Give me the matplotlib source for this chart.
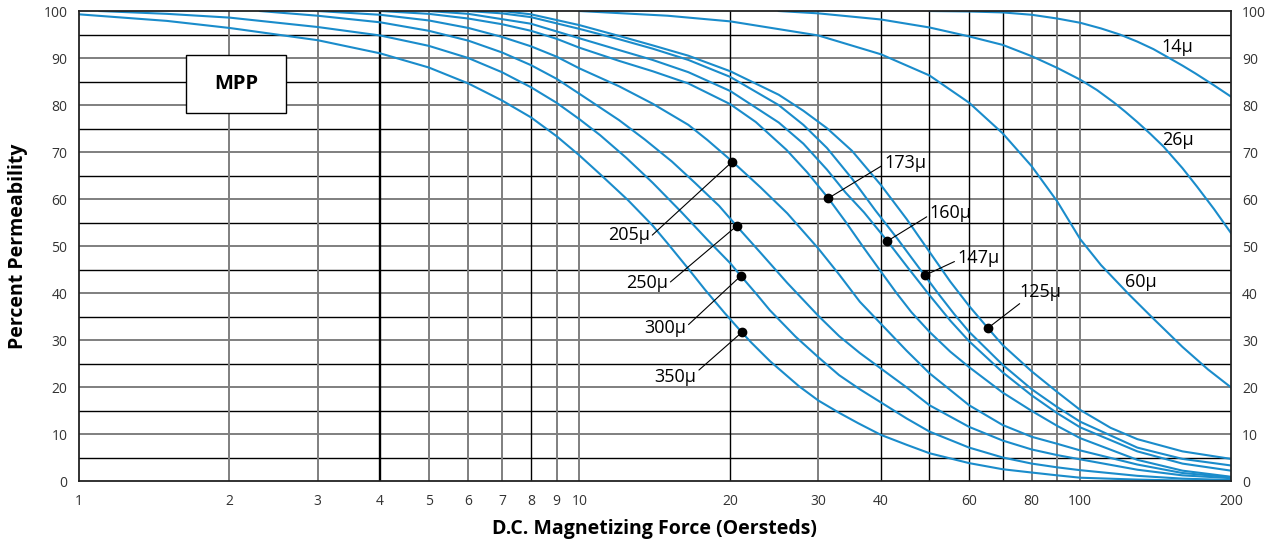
import matplotlib
matplotlib.use("Agg")
import matplotlib.pyplot as plt
from matplotlib.patches import Rectangle
from matplotlib.ticker import NullLocator

plt.rcParams["font.family"] = ["Open Sans", "DejaVu Sans"]

# ─── Data ────────────────────────────────────────────────────────────────────
h_350 = [1, 1.5, 2, 3, 4, 5, 6, 7, 8, 9, 10, 11, 12.5, 14, 15, 16.5, 17.8, 19.5, 21.1, 22, 24,
         27.4, 30, 33, 36, 40, 45, 50, 60, 70, 80, 90, 100, 130, 160, 200]
p_350 = [99.3, 97.9, 96.4, 93.8, 91.0, 88.0, 84.6, 81.0, 77.4, 73.4, 69.3, 65.3, 59.8, 54.4, 50.6,
         45.2, 40.8, 35.8, 31.7, 29.6, 25.6, 20.3, 17.2, 14.6, 12.4, 9.9, 7.8, 6.0, 3.9, 2.6, 1.9,
         1.3, 0.8, 0.4, 0.2, 0.1]

h_300 = [1.1, 1.5, 2, 3, 4, 5, 6, 7, 8, 9, 10, 11, 12.4, 14, 16, 18, 20, 21.0, 22.5, 24, 27, 30,
         33, 36.3, 40, 45, 50, 60, 70, 80, 90, 100, 130, 160, 200]
p_300 = [100, 99.4, 98.6, 96.6, 94.8, 92.6, 90.0, 87.0, 83.8, 80.5, 77.0, 73.6, 68.8, 63.5, 57.2,
         51.4, 46.4, 43.7, 40.0, 36.4, 30.8, 26.4, 22.6, 19.6, 16.8, 13.4, 10.6, 7.2, 5.1, 3.8, 3.0,
         2.4, 1.2, 0.6, 0.3]

h_250 = [2.3, 3, 4, 5, 6, 7, 8, 9, 10, 12, 13.5, 15.3, 17, 19, 20.6, 23, 26, 30, 33, 36.3, 40,
         45, 50, 60, 70, 80, 90, 100, 130, 160, 200]
p_250 = [100, 99.0, 97.6, 95.8, 93.7, 91.2, 88.5, 85.6, 82.4, 76.8, 72.7, 68.0, 63.5, 58.6,
         54.3, 48.6, 42.2, 35.2, 30.9, 27.3, 24.0, 20.0, 16.2, 11.6, 8.7, 6.8, 5.6, 4.7, 2.5, 1.3,
         0.7]

h_205 = [3.0, 4, 5, 6, 7, 8, 9, 10, 12, 14, 16.5, 18, 20.2, 23, 26, 30, 33, 36.3, 40, 45, 50,
         60, 70, 80, 90, 100, 130, 160, 200]
p_205 = [100, 99.2, 98.0, 96.4, 94.5, 92.5, 90.3, 87.8, 84.0, 80.3, 75.8, 72.6, 68.0, 62.5,
         57.0, 49.5, 44.0, 38.2, 33.5, 27.8, 23.0, 16.2, 12.0, 9.5, 8.0, 6.6, 3.6, 1.8, 0.9]

h_173 = [4.0, 5, 6, 7, 8, 9, 10, 12, 14, 16.5, 20, 22.5, 25.9, 28.5, 31.4, 34, 37, 40, 43, 46,
         50, 55, 60, 70, 80, 90, 100, 130, 160, 200]
p_173 = [100, 99.4, 98.4, 97.2, 95.8, 94.1, 92.2, 89.4, 87.2, 84.6, 80.2, 76.4, 70.5, 65.7,
         60.2, 55.2, 49.6, 44.6, 40.0, 36.0, 31.8, 27.6, 24.3, 18.9, 15.0, 11.8, 9.2, 4.6, 2.3, 1.0]

h_160 = [5, 6, 8, 10, 12, 14, 16.5, 20, 25, 28, 31.2, 34, 37, 41.2, 45, 50, 55, 60, 70, 80, 90,
         100, 130, 160, 200]
p_160 = [100, 99.4, 97.3, 94.2, 91.7, 89.6, 87.0, 83.0, 76.3, 71.8, 66.3, 61.4, 57.2, 51.1, 45.8,
         39.6, 34.2, 29.8, 23.2, 18.3, 14.5, 11.5, 6.4, 3.8, 2.3]

h_147 = [6, 7, 8, 10, 12, 14, 16.5, 20, 25, 28, 31.2, 35, 39, 43, 46, 48.9, 52, 56, 60, 70, 80,
         90, 100, 130, 160, 200]
p_147 = [100, 99.5, 98.7, 96.2, 94.0, 92.0, 89.6, 86.0, 80.0, 75.8, 70.9, 64.4, 57.6, 51.8, 47.6,
         43.8, 40.0, 35.6, 31.8, 24.8, 19.6, 15.8, 12.7, 7.2, 4.8, 3.4]

h_125 = [7, 8, 10, 12, 14, 16.5, 20, 25, 28, 31.2, 35, 40, 45, 50, 55, 60, 65.4, 70, 80, 90,
         100, 115, 130, 160, 200]
p_125 = [100, 99.3, 97.0, 94.7, 92.7, 90.5, 87.2, 82.2, 78.8, 75.1, 70.3, 63.0, 55.8, 48.8,
         42.5, 37.3, 32.6, 29.0, 23.4, 19.0, 15.2, 11.4, 9.0, 6.4, 4.8]

h_60 = [10, 15, 20, 30, 40, 50, 60, 70, 80, 90, 100, 110, 125, 140, 160, 180, 200]
p_60 = [100, 99.0, 97.8, 94.8, 90.8, 86.3, 80.5, 74.0, 67.0, 59.5, 51.5, 46.0, 39.8, 34.6, 28.6,
        23.8, 20.0]

h_26 = [25, 30, 40, 50, 60, 70, 80, 90, 100, 108, 116.6, 123, 130, 138, 146.6, 160, 171, 185, 200]
p_26 = [100, 99.5, 98.2, 96.5, 94.6, 92.8, 90.4, 87.9, 85.4, 83.2, 80.6, 78.6, 76.4, 73.9, 71.2,
        66.6, 62.7, 57.9, 52.8]

h_14 = [50, 60, 70, 80, 90, 100, 110, 120, 130, 140, 150, 160, 170, 185, 200]
p_14 = [100, 99.9, 99.7, 99.2, 98.4, 97.5, 96.3, 95.0, 93.5, 91.9, 90.1, 88.4, 86.7, 84.2, 81.8]

curves = [
    (h_350, p_350), (h_300, p_300), (h_250, p_250), (h_205, p_205),
    (h_173, p_173), (h_160, p_160), (h_147, p_147), (h_125, p_125),
    (h_60, p_60), (h_26, p_26), (h_14, p_14),
]

# labelled points with leader lines (H, % on the curve)
dot_names = ["205", "250", "300", "350", "173", "160", "147", "125"]
dot_h = [20.2, 20.6, 21.0, 21.1, 31.4, 41.2, 48.9, 65.4]
dot_p = [68.0, 54.3, 43.7, 31.7, 60.2, 51.1, 43.8, 32.6]

x_ticks = [1, 2, 3, 4, 5, 6, 7, 8, 9, 10, 20, 30, 40, 60, 80, 100, 200]
y_ticks = list(range(0, 101, 10))

BLUE = "#1a8ccb"
GREY = "#7f7f7f"

# ─── Figure ──────────────────────────────────────────────────────────────────
fig = plt.figure(figsize=(12.73, 5.48), dpi=100)
ax = fig.add_axes([0.0618, 0.1214, 0.9052, 0.8585])
ax.set_xscale("log")
ax.set_xlim(1, 200)
ax.set_ylim(0, 100)

# grid
for y in range(5, 100, 5):
    if y % 10 == 0:
        ax.axhline(y, color=GREY, lw=1.4, zorder=1)
    else:
        ax.axhline(y, color="black", lw=1.0, zorder=1)
for x in [2, 3, 5, 6, 7, 9, 10, 30, 80, 90, 100]:
    ax.axvline(x, color=GREY, lw=1.4, zorder=1)
for x in [8, 20, 40, 50, 60, 70]:
    ax.axvline(x, color="black", lw=1.0, zorder=1)
ax.axvline(4, color="black", lw=1.7, zorder=1)

# curves
for hs, ps in curves:
    ax.plot(hs, ps, color=BLUE, lw=1.5, zorder=3, solid_joinstyle="round")

# labels with leaders
label_style = dict(fontsize=13, color="black", va="center", zorder=5)
leader = dict(arrowstyle="-", color="black", lw=0.8, shrinkA=0, shrinkB=0)
ax.annotate("205μ", xy=(dot_h[0], dot_p[0]), xytext=(13.8, 52.4), ha="right",
            arrowprops=dict(leader, relpos=(1.0, 0.35)), **label_style)
ax.annotate("250μ", xy=(dot_h[1], dot_p[1]), xytext=(15.0, 42.1), ha="right",
            arrowprops=dict(leader, relpos=(1.0, 0.45)), **label_style)
ax.annotate("300μ", xy=(dot_h[2], dot_p[2]), xytext=(16.3, 32.6), ha="right",
            arrowprops=dict(leader, relpos=(1.0, 0.55)), **label_style)
ax.annotate("350μ", xy=(dot_h[3], dot_p[3]), xytext=(17.1, 22.2), ha="right",
            arrowprops=dict(leader, relpos=(1.0, 0.75)), **label_style)
ax.annotate("173μ", xy=(dot_h[4], dot_p[4]), xytext=(40.6, 67.8), ha="left",
            arrowprops=dict(leader, relpos=(0.0, 0.4)), **label_style)
ax.annotate("160μ", xy=(dot_h[5], dot_p[5]), xytext=(50.0, 57.0), ha="left",
            arrowprops=dict(leader, relpos=(0.0, 0.4)), **label_style)
ax.annotate("147μ", xy=(dot_h[6], dot_p[6]), xytext=(56.8, 47.4), ha="left",
            arrowprops=dict(leader, relpos=(0.0, 0.4)), **label_style)
ax.annotate("125μ", xy=(dot_h[7], dot_p[7]), xytext=(75.6, 40.3), ha="left",
            arrowprops=dict(leader, relpos=(0.12, 0.05)), **label_style)
ax.plot(dot_h, dot_p, "o", color="black", ms=6, zorder=6)

ax.text(145.2, 92.4, "14μ", ha="left", **label_style)
ax.text(146.0, 72.6, "26μ", ha="left", **label_style)
ax.text(123.0, 42.5, "60μ", ha="left", **label_style)

# MPP box
ax.add_patch(Rectangle((0.0931, 0.7826), 0.0865, 0.1239, transform=ax.transAxes,
                       facecolor="white", edgecolor="black", lw=1.0, zorder=4))
ax.text(0.1364, 0.8446, "MPP", transform=ax.transAxes, ha="center", va="center",
        fontsize=14.5, fontweight="bold", zorder=5)

# ticks
ax.set_xticks(x_ticks)
ax.set_xticklabels([str(t) for t in x_ticks])
ax.xaxis.set_minor_locator(NullLocator())
ax.set_yticks(y_ticks)
ax.tick_params(axis="both", length=0, labelsize=10, labelcolor="#333333")
ax.tick_params(axis="x", pad=9)
ax.tick_params(axis="y", pad=8, labelright=True)

for sp in ax.spines.values():
    sp.set_color("#222222")
    sp.set_linewidth(1.3)
    sp.set_zorder(7)

ax.set_xlabel("D.C. Magnetizing Force (Oersteds)", fontsize=14, fontweight="bold", labelpad=7)
ax.set_ylabel("Percent Permeability", fontsize=14, fontweight="bold", labelpad=11)

fig.savefig("out.png", dpi=100)
